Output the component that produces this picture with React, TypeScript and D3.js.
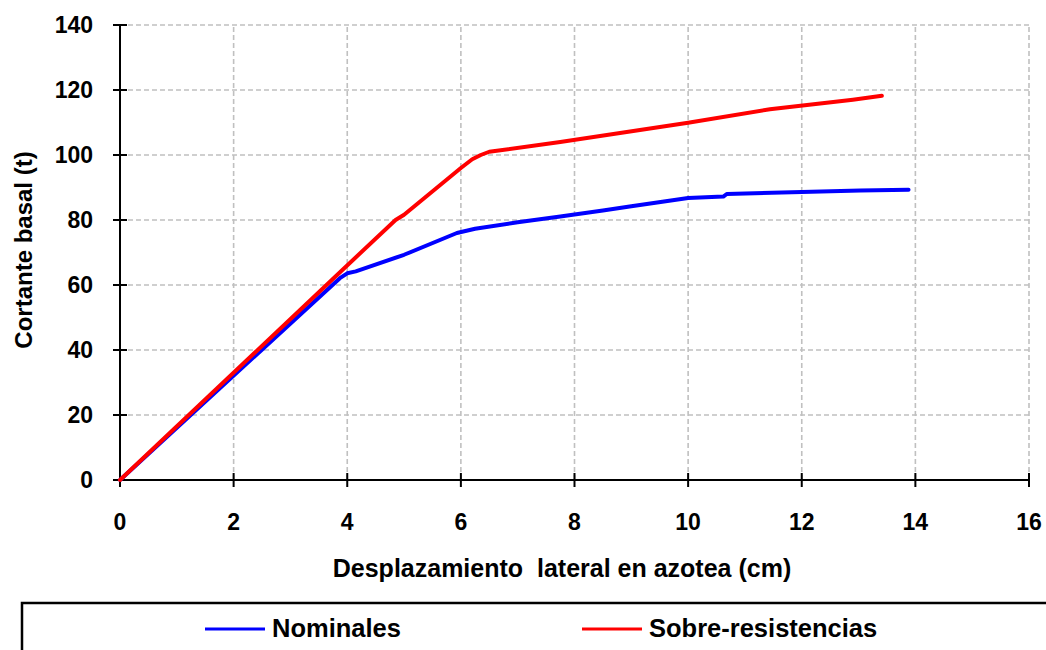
import React from 'react';
import * as d3 from 'd3';

// Pushover curves: base shear vs roof displacement
const nominalX = [0, 3.87, 4.0, 4.15, 5.0, 5.93, 6.25, 7.0, 7.75, 8.5, 9.0, 10.0, 10.62, 10.68, 12.0, 13.03, 13.88];
const nominalY = [0, 62.1, 63.6, 64.2, 69.3, 76.0, 77.3, 79.3, 81.1, 82.9, 84.2, 86.8, 87.2, 88.0, 88.6, 89.1, 89.3];

const overX = [0, 3.9, 4.85, 5.0, 6.0, 6.2, 6.35, 6.5, 7.75, 10.0, 11.44, 12.9, 13.41];
const overY = [0, 64.4, 80.0, 81.6, 96.0, 98.7, 100.0, 101.0, 104.0, 109.9, 114.1, 117.0, 118.2];

const xTicks = [0, 2, 4, 6, 8, 10, 12, 14, 16];
const yTicks = [0, 20, 40, 60, 80, 100, 120, 140];

const seriesNames = ['Nominales', 'Sobre-resistencias'];
const seriesColors = ['#0000ff', '#ff0000'];

const W = 1046;
const H = 650;
const font = "'Liberation Sans', Arial, sans-serif";

const App: React.FC = () => {
  const x = d3.scaleLinear().domain([0, 16]).range([120, 1029]);
  const y = d3.scaleLinear().domain([0, 140]).range([480, 25]);

  const line = d3
    .line<[number, number]>()
    .x(d => x(d[0]))
    .y(d => y(d[1]));

  const series = [
    d3.zip(nominalX, nominalY) as [number, number][],
    d3.zip(overX, overY) as [number, number][],
  ];

  const legendX = [205, 582];

  return (
    <svg width={W} height={H} style={{ position: 'absolute', left: 0, top: 0, background: '#fff' }} fontFamily={font}>
      <rect width={W} height={H} fill="#fff" />

      {/* grid */}
      {xTicks.slice(1).map(t => (
        <line key={'gx' + t} x1={x(t)} x2={x(t)} y1={y(0)} y2={y(140)} stroke="#c0c0c0" strokeWidth={1.6} strokeDasharray="5,3" />
      ))}
      {yTicks.slice(1).map(t => (
        <line key={'gy' + t} x1={x(0)} x2={x(16)} y1={y(t)} y2={y(t)} stroke="#c0c0c0" strokeWidth={1.6} strokeDasharray="5,3" />
      ))}

      {/* axes */}
      <line x1={x(0)} x2={x(0)} y1={y(0)} y2={y(140)} stroke="#000" strokeWidth={2} />
      <line x1={x(0)} x2={x(16)} y1={y(0)} y2={y(0)} stroke="#000" strokeWidth={2} />
      {yTicks.map(t => (
        <g key={'yt' + t}>
          <line x1={x(0) - 7} x2={x(0) + 7} y1={y(t)} y2={y(t)} stroke="#000" strokeWidth={2} />
          <text x={93} y={y(t)} dy="0.36em" textAnchor="end" fontSize={23} fontWeight="bold">{t}</text>
        </g>
      ))}
      {xTicks.map(t => (
        <g key={'xt' + t}>
          <line x1={x(t)} x2={x(t)} y1={y(0) - 7} y2={y(0) + 7} stroke="#000" strokeWidth={2} />
          <text x={x(t)} y={530} textAnchor="middle" fontSize={23} fontWeight="bold">{t}</text>
        </g>
      ))}

      {/* series */}
      {series.map((s, i) => (
        <path key={seriesNames[i]} d={line(s) ?? ''} fill="none" stroke={seriesColors[i]} strokeWidth={4} strokeLinejoin="round" strokeLinecap="round" />
      ))}

      {/* axis titles */}
      <text x={562} y={577} textAnchor="middle" fontSize={25} fontWeight="bold" style={{ whiteSpace: 'pre' }}>
        {'Desplazamiento  lateral en azotea (cm)'}
      </text>
      <text transform="translate(32,250) rotate(-90)" textAnchor="middle" fontSize={24} fontWeight="bold">
        Cortante basal (t)
      </text>

      {/* legend */}
      <rect x={22} y={603} width={1040} height={60} fill="none" stroke="#000" strokeWidth={2.5} />
      {seriesNames.map((n, i) => (
        <g key={'lg' + n}>
          <line x1={legendX[i]} x2={legendX[i] + 60} y1={629} y2={629} stroke={seriesColors[i]} strokeWidth={3} />
          <text x={legendX[i] + 67} y={637} fontSize={25.5} fontWeight="bold">{n}</text>
        </g>
      ))}
    </svg>
  );
};

export default App;
